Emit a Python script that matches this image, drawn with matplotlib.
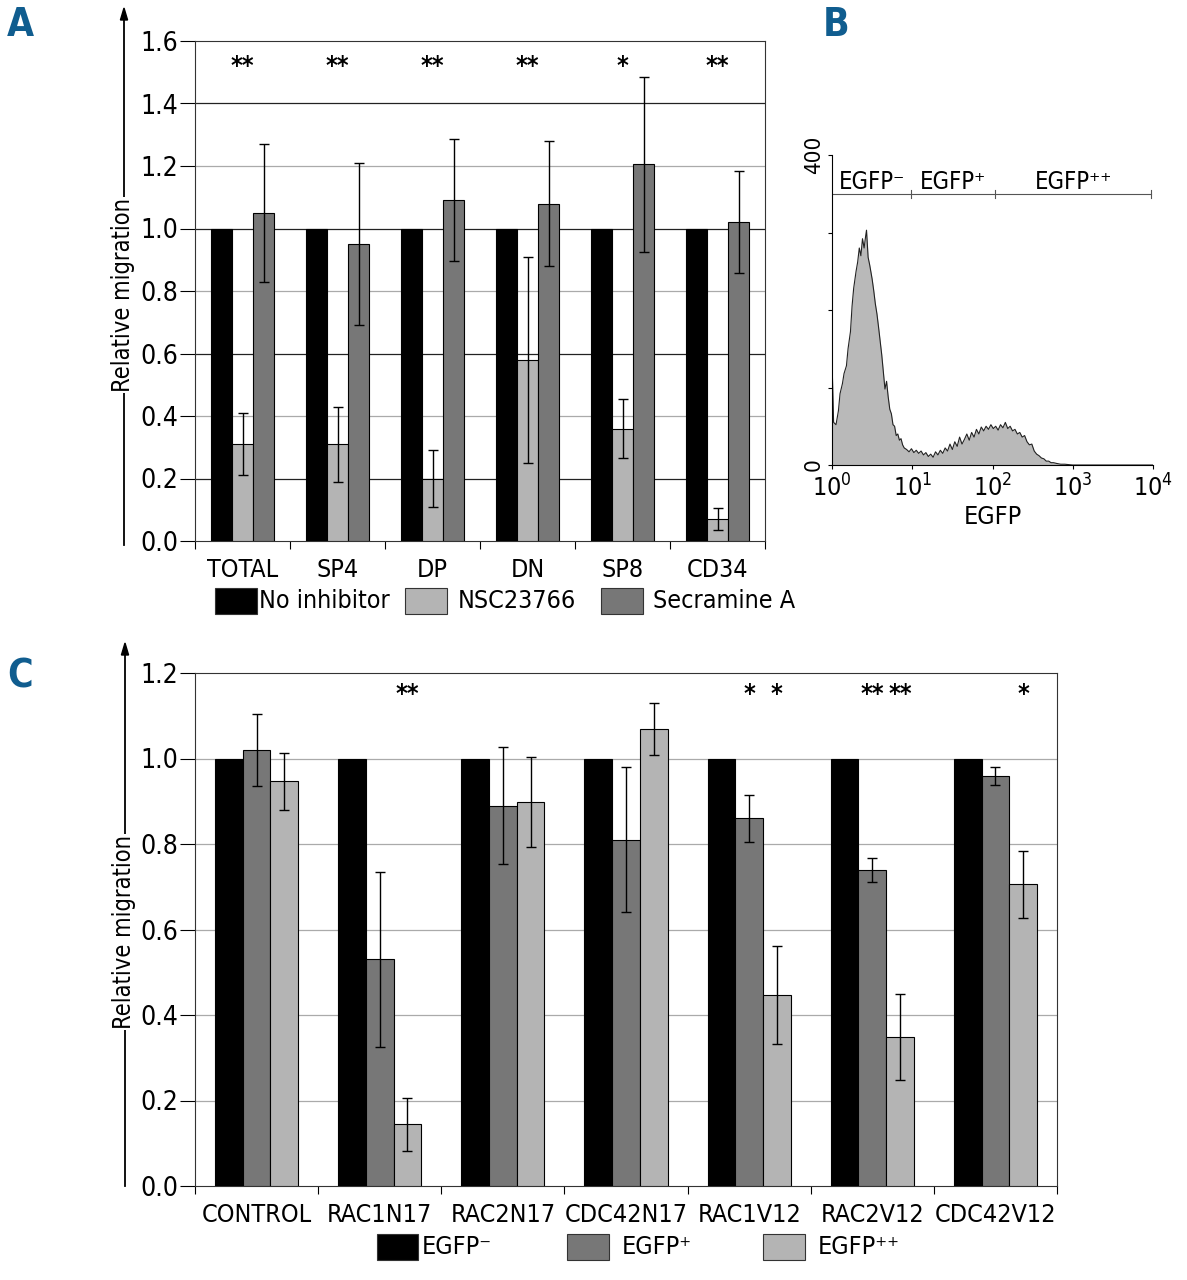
import numpy as np
import matplotlib
matplotlib.use('Agg')
import matplotlib.pyplot as plt
from matplotlib.lines import Line2D

plt.rcParams['font.family'] = ['Liberation Sans Narrow', 'DejaVu Sans']
plt.rcParams['font.stretch'] = 'condensed'

# panel A data
cats_a = ['TOTAL', 'SP4', 'DP', 'DN', 'SP8', 'CD34']
no_inhib = [1.0, 1.0, 1.0, 1.0, 1.0, 1.0]
nsc = [0.31, 0.31, 0.20, 0.58, 0.36, 0.07]
nsc_err = [0.10, 0.12, 0.09, 0.33, 0.093, 0.036]
secra = [1.05, 0.95, 1.09, 1.08, 1.205, 1.02]
secra_err = [0.22, 0.26, 0.195, 0.20, 0.28, 0.163]
stars_a = ['**', '**', '**', '**', '*', '**']

# panel B data (log10 EGFP, counts)
hist_log = [0.00, 0.02, 0.05, 0.08, 0.10, 0.13, 0.15, 0.18, 0.20, 0.23, 0.25, 0.27,
            0.30, 0.32, 0.34, 0.36, 0.38, 0.40, 0.42, 0.43, 0.45, 0.47, 0.50, 0.52,
            0.54, 0.56, 0.58, 0.60, 0.62, 0.64, 0.66, 0.68, 0.70, 0.72, 0.74, 0.76,
            0.78, 0.80, 0.82, 0.84, 0.86, 0.88, 0.90, 0.93, 0.96, 0.99, 1.02, 1.05,
            1.08, 1.11, 1.14, 1.17, 1.20, 1.23, 1.26, 1.29, 1.32, 1.35, 1.38, 1.41,
            1.44, 1.47, 1.50, 1.53, 1.56, 1.59, 1.62, 1.65, 1.68, 1.71, 1.74, 1.77,
            1.80, 1.83, 1.86, 1.89, 1.92, 1.95, 1.98, 2.01, 2.04, 2.07, 2.10, 2.13,
            2.16, 2.19, 2.22, 2.25, 2.28, 2.31, 2.34, 2.37, 2.40, 2.43, 2.46, 2.49,
            2.52, 2.55, 2.58, 2.61, 2.64, 2.67, 2.70, 2.73, 2.76, 2.80, 2.85, 2.90,
            3.00, 4.00]
hist_count = [135, 55, 52, 70, 92, 105, 118, 128, 150, 172, 205, 228,
              250, 262, 280, 270, 292, 280, 296, 303, 268, 258, 240, 225,
              208, 195, 178, 160, 142, 120, 98, 108, 88, 72, 66, 52,
              50, 38, 40, 32, 34, 26, 22, 20, 17, 21, 16, 19,
              15, 18, 13, 16, 11, 14, 10, 17, 13, 19, 15, 22,
              18, 27, 20, 30, 24, 36, 27, 33, 40, 32, 42, 36,
              46, 40, 49, 44, 50, 46, 52, 47, 50, 45, 52, 48,
              55, 47, 50, 44, 46, 40, 42, 36, 38, 30, 26, 27,
              18, 14, 12, 9, 8, 5, 5, 3, 3, 2, 1, 1,
              0, 0]
gate_edges = [0.0, 0.99, 2.03, 3.98]
gate_labels = ['EGFP\u207b', 'EGFP\u207a', 'EGFP\u207a\u207a']

# panel C data
cats_c = ['CONTROL', 'RAC1N17', 'RAC2N17', 'CDC42N17', 'RAC1V12', 'RAC2V12', 'CDC42V12']
egfp_neg = [1.0, 1.0, 1.0, 1.0, 1.0, 1.0, 1.0]
egfp_pos = [1.02, 0.53, 0.89, 0.81, 0.86, 0.74, 0.96]
egfp_pos_err = [0.085, 0.205, 0.136, 0.17, 0.055, 0.028, 0.021]
egfp_pp = [0.947, 0.145, 0.898, 1.069, 0.447, 0.349, 0.706]
egfp_pp_err = [0.067, 0.062, 0.106, 0.061, 0.115, 0.10, 0.078]
stars_pos = ['', '', '', '', '*', '**', '']
stars_pp = ['', '**', '', '', '*', '**', '*']

BLUE = '#105d8f'
LIGHT = '#b4b4b4'
DARK = '#777777'
FS = 17

W, H = 1187, 1280
fig = plt.figure(figsize=(W / 100, H / 100), dpi=100)


def fx(px):
    return px / W


def fy(py):
    return 1 - py / H


def bar_panel(ax, cats, series, errs, colors, ymax, darklines):
    x = np.arange(len(cats))
    w = 0.222 if len(cats) == 6 else 0.225
    for i, (vals, err, col) in enumerate(zip(series, errs, colors)):
        ax.bar(x + (i - 1) * w, vals, w, yerr=err, color=col, edgecolor='black',
               linewidth=0.8, zorder=3,
               error_kw=dict(elinewidth=1.0, capsize=3.5, capthick=1.0, ecolor='black'))
    ax.set_xlim(-0.5, len(cats) - 0.5)
    ax.set_ylim(0, ymax)
    yt = np.arange(0, ymax + 0.001, 0.2)
    ax.set_yticks(yt)
    ax.set_yticklabels(['%.1f' % v for v in yt], fontsize=FS + 2)
    for v in yt[1:-1]:
        c = '#222222' if round(v * 10) in darklines else '#aaaaaa'
        ax.axhline(v, color=c, lw=0.9, zorder=1)
    ax.set_xticks(x)
    ax.set_xticklabels(cats, fontsize=FS + 1)
    ax.set_xticks(np.arange(-0.5, len(cats), 1.0), minor=True)
    ax.tick_params(axis='x', which='major', length=0, pad=12)
    ax.tick_params(axis='x', which='minor', length=6, width=0.8)
    ax.tick_params(axis='y', length=11, width=0.8, pad=1)
    for s in ax.spines.values():
        s.set_linewidth(0.8)
        s.set_color('#333333')
    return x


def arrow_label(xp, y_bottom, y_mid, y_top):
    fig.add_artist(Line2D([fx(xp), fx(xp)], [fy(y_bottom), fy(y_top + 10)],
                          color='black', lw=1.3))
    fig.text(fx(xp - 1), fy(y_mid), 'Relative migration', rotation=90,
             ha='center', va='center', fontsize=FS,
             bbox=dict(facecolor='white', edgecolor='none', pad=1))
    fig.patches.append(matplotlib.patches.FancyArrow(
        fx(xp), fy(y_top + 12), 0, fy(y_top) - fy(y_top + 12), width=0.0005,
        head_width=0.006, head_length=fy(y_top) - fy(y_top + 12),
        length_includes_head=True, color='black', transform=fig.transFigure))


def legend_row(items, y):
    for (x0, x1, col, tx, label) in items:
        fig.patches.append(matplotlib.patches.Rectangle(
            (fx(x0), fy(y + 13)), fx(x1) - fx(x0), fy(y - 13) - fy(y + 13),
            facecolor=col, edgecolor='#333333', lw=0.8, transform=fig.transFigure))
        fig.text(fx(tx), fy(y), label, ha='left', va='center', fontsize=FS + 1)


# ---- panel A
axA = fig.add_axes([fx(195), fy(541), fx(765) - fx(195), fy(41) - fy(541)])
xa = bar_panel(axA, cats_a, [no_inhib, nsc, secra], [None, nsc_err, secra_err],
               ['black', LIGHT, DARK], 1.6, (2, 6, 10, 14))
for xi, s in zip(xa, stars_a):
    axA.text(xi, 1.52, s, ha='center', va='center', fontsize=FS + 1, fontweight='bold')
arrow_label(124, 545, 295, 8)
legend_row([(215, 257, 'black', 259, 'No inhibitor'),
            (405, 447, LIGHT, 458, 'NSC23766'),
            (601, 643, DARK, 653, 'Secramine A')], 601)

# ---- panel B
axB = fig.add_axes([fx(832), fy(465), fx(1153) - fx(832), fy(155) - fy(465)])
hx = [10 ** v for v in hist_log]
axB.fill_between(hx, hist_count, color='#b9b9b9', lw=0)
axB.plot(hx, hist_count, color='#222222', lw=0.8)
axB.set_xscale('log')
axB.set_xlim(1, 1e4)
axB.set_ylim(0, 400)
axB.set_xticks([1, 10, 100, 1000, 10000])
axB.set_xticklabels(['10$^0$', '10$^1$', '10$^2$', '10$^3$', '10$^4$'], fontsize=FS + 1)
axB.xaxis.set_minor_locator(matplotlib.ticker.NullLocator())
axB.set_yticks([0, 100, 200, 300, 400])
axB.set_yticklabels(['0', '', '', '', '400'], fontsize=FS - 1, rotation=90, va='center')
axB.tick_params(axis='y', length=3, width=0.8, pad=3)
axB.tick_params(axis='x', length=3, width=0.8, pad=4)
axB.spines['top'].set_visible(False)
axB.spines['right'].set_visible(False)
axB.set_xlabel('EGFP', fontsize=FS + 1, labelpad=2)
gx = [10 ** v for v in gate_edges]
axB.plot([gx[0], gx[-1]], [350, 350], color='#555555', lw=0.8)
for g in gx[1:]:
    axB.plot([g, g], [345, 355], color='#555555', lw=0.8)
for a, b, lab in zip(gx[:-1], gx[1:], gate_labels):
    mid = 10 ** ((np.log10(a) + np.log10(b)) / 2)
    axB.text(mid, 350, lab, ha='center', va='bottom', fontsize=FS)

# ---- panel C
axC = fig.add_axes([fx(195), fy(1186), fx(1057) - fx(195), fy(673) - fy(1186)])
w = 0.225
xc = bar_panel(axC, cats_c, [egfp_neg, egfp_pos, egfp_pp], [None, egfp_pos_err, egfp_pp_err],
               ['black', DARK, LIGHT], 1.2, ())
for xi, s1, s2 in zip(xc, stars_pos, stars_pp):
    if s1:
        axC.text(xi, 1.152, s1, ha='center', va='center', fontsize=FS + 1, fontweight='bold')
    if s2:
        axC.text(xi + w, 1.152, s2, ha='center', va='center', fontsize=FS + 1, fontweight='bold')
arrow_label(125, 1186, 932, 643)
legend_row([(377, 418, 'black', 422, gate_labels[0]),
            (567, 609, DARK, 622, gate_labels[1]),
            (763, 805, LIGHT, 818, gate_labels[2])], 1247)

# panel letters
for lx, ly, t in [(20, 25, 'A'), (836, 25, 'B'), (20, 676, 'C')]:
    fig.text(fx(lx), fy(ly), t, ha='center', va='center', fontsize=28,
             fontweight='bold', color=BLUE)

fig.savefig('out.png', dpi=100)
